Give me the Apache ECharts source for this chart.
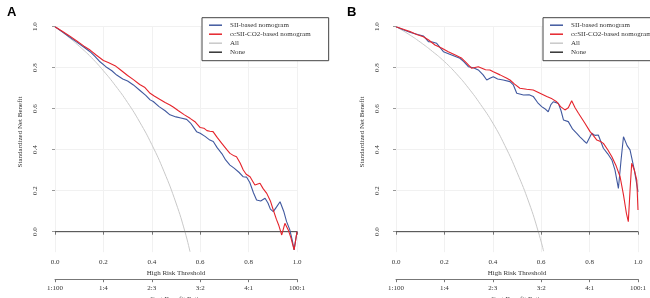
<!DOCTYPE html>
<html>
<head>
<meta charset="utf-8">
<script src="https://cdn.jsdelivr.net/npm/echarts@6/dist/echarts.min.js"></script>
<style>
  html, body { margin: 0; padding: 0; background: #fff; }
  #main { width: 650px; height: 298px; }
</style>
</head>
<body>
<div id="main"></div>
<script>
// decision curves: [threshold, standardized net benefit]
const seriesNames = ['SII-based nomogram', 'ccSII-CO2-based nomogram', 'All', 'None'];
const xTicks = [0, 0.2, 0.4, 0.6, 0.8, 1.0];
const yTicks = [0, 0.2, 0.4, 0.6, 0.8, 1.0];
const costBenefit = ['1:100', '1:4', '2:3', '3:2', '4:1', '100:1'];

const siiA = [[0,1.0],[0.03,0.975],[0.06,0.95],[0.09,0.925],[0.12,0.9],[0.145,0.878],[0.165,0.855],[0.186,0.829],[0.21,0.805],[0.235,0.785],[0.255,0.764],[0.28,0.745],[0.3,0.735],[0.324,0.716],[0.35,0.69],[0.375,0.665],[0.393,0.643],[0.406,0.635],[0.43,0.61],[0.455,0.59],[0.475,0.57],[0.5,0.56],[0.52,0.555],[0.544,0.548],[0.56,0.53],[0.575,0.505],[0.585,0.488],[0.6,0.48],[0.62,0.465],[0.64,0.447],[0.654,0.44],[0.67,0.41],[0.69,0.38],[0.705,0.35],[0.723,0.325],[0.74,0.31],[0.76,0.29],[0.778,0.268],[0.792,0.266],[0.805,0.24],[0.82,0.19],[0.833,0.155],[0.85,0.15],[0.868,0.163],[0.88,0.14],[0.89,0.11],[0.902,0.098],[0.915,0.12],[0.93,0.146],[0.945,0.1],[0.957,0.049],[0.97,0.01],[0.98,-0.04],[0.988,-0.089],[1.0,0.0]];
const ccsiiA = [[0,1.0],[0.03,0.978],[0.06,0.955],[0.09,0.93],[0.12,0.905],[0.145,0.886],[0.17,0.862],[0.2,0.835],[0.22,0.825],[0.248,0.81],[0.27,0.79],[0.3,0.762],[0.324,0.742],[0.35,0.718],[0.37,0.705],[0.393,0.675],[0.41,0.662],[0.434,0.645],[0.455,0.63],[0.475,0.618],[0.49,0.607],[0.51,0.59],[0.535,0.57],[0.558,0.553],[0.58,0.535],[0.6,0.508],[0.615,0.505],[0.628,0.493],[0.64,0.49],[0.653,0.488],[0.67,0.46],[0.69,0.43],[0.71,0.4],[0.723,0.382],[0.74,0.37],[0.75,0.366],[0.765,0.335],[0.778,0.301],[0.79,0.28],[0.806,0.268],[0.815,0.25],[0.826,0.228],[0.847,0.236],[0.86,0.21],[0.875,0.187],[0.89,0.15],[0.902,0.106],[0.915,0.06],[0.925,0.03],[0.937,-0.016],[0.95,0.041],[0.964,0.008],[0.975,-0.03],[0.988,-0.089],[1.0,0.0]];
const allA = [[0,1.0],[0.05,0.955],[0.1,0.905],[0.15,0.85],[0.2,0.785],[0.25,0.712],[0.3,0.63],[0.35,0.535],[0.4,0.425],[0.45,0.295],[0.5,0.14],[0.537,0.0],[0.558,-0.098]];

const siiB = [[0,1.0],[0.03,0.985],[0.06,0.972],[0.09,0.962],[0.113,0.955],[0.134,0.927],[0.15,0.925],[0.168,0.919],[0.196,0.878],[0.23,0.862],[0.264,0.846],[0.28,0.83],[0.299,0.805],[0.32,0.8],[0.34,0.789],[0.36,0.765],[0.375,0.74],[0.388,0.748],[0.402,0.756],[0.42,0.745],[0.443,0.74],[0.471,0.732],[0.485,0.716],[0.499,0.675],[0.527,0.667],[0.55,0.668],[0.567,0.66],[0.585,0.63],[0.602,0.61],[0.615,0.6],[0.629,0.585],[0.64,0.62],[0.65,0.634],[0.671,0.626],[0.682,0.59],[0.692,0.545],[0.712,0.537],[0.73,0.5],[0.747,0.48],[0.76,0.463],[0.775,0.445],[0.788,0.431],[0.795,0.423],[0.809,0.48],[0.822,0.47],[0.836,0.472],[0.857,0.407],[0.875,0.38],[0.892,0.35],[0.905,0.3],[0.919,0.211],[0.93,0.35],[0.94,0.463],[0.955,0.42],[0.967,0.399],[0.985,0.3],[1.0,0.195]];
const ccsiiB = [[0,1.0],[0.03,0.988],[0.058,0.976],[0.085,0.962],[0.113,0.951],[0.135,0.935],[0.161,0.911],[0.19,0.895],[0.216,0.878],[0.245,0.862],[0.272,0.846],[0.29,0.825],[0.313,0.797],[0.34,0.805],[0.37,0.79],[0.388,0.789],[0.402,0.78],[0.43,0.765],[0.458,0.748],[0.471,0.74],[0.49,0.72],[0.512,0.7],[0.54,0.695],[0.567,0.691],[0.595,0.675],[0.623,0.659],[0.645,0.648],[0.664,0.634],[0.68,0.61],[0.698,0.594],[0.712,0.605],[0.726,0.639],[0.74,0.605],[0.754,0.578],[0.78,0.53],[0.802,0.488],[0.815,0.47],[0.83,0.447],[0.845,0.44],[0.857,0.431],[0.875,0.4],[0.892,0.366],[0.91,0.32],[0.926,0.268],[0.94,0.18],[0.952,0.09],[0.96,0.049],[0.967,0.2],[0.974,0.334],[0.985,0.3],[0.995,0.252],[1.0,0.106]];
const allB = [[0,1.0],[0.05,0.965],[0.1,0.925],[0.15,0.88],[0.2,0.83],[0.25,0.77],[0.3,0.7],[0.35,0.62],[0.4,0.53],[0.45,0.42],[0.5,0.29],[0.55,0.14],[0.588,0.0],[0.61,-0.095]];

const noneLine = [[0,0],[1,0]];

const FONT = '"Liberation Serif", "DejaVu Serif", serif';
const colors = ['#41599f', '#e5242c', '#c9c9c9', '#333333'];

function xAxes(grid) {
	return [
		{
			gridIndex: grid, type: 'value', min: 0, max: 1, interval: 0.2,
			name: 'High Risk Threshold', nameLocation: 'middle', nameGap: 11,
			nameTextStyle: { fontFamily: FONT, fontSize: 7, color: '#333' },
			axisLine: { lineStyle: { color: '#777', width: 1 } },
			axisTick: { length: 3, lineStyle: { color: '#777' } },
			axisLabel: { fontFamily: FONT, fontSize: 7, color: '#333', margin: 6, formatter: v => v.toFixed(1) },
			splitLine: { show: true, lineStyle: { color: '#f1f1f1', width: 1 } }
		},
		{
			gridIndex: grid, type: 'value', position: 'bottom', offset: 27, min: 0, max: 1, interval: 0.2,
			name: 'Cost Benefit Ratio', nameLocation: 'middle', nameGap: 9,
			nameTextStyle: { fontFamily: FONT, fontSize: 7, color: '#333' },
			axisLine: { lineStyle: { color: '#777', width: 1 } },
			axisTick: { length: 3, lineStyle: { color: '#777' } },
			axisLabel: { fontFamily: FONT, fontSize: 7, color: '#333', margin: 5, formatter: v => costBenefit[Math.round(v * 5)] },
			splitLine: { show: false }
		}
	];
}

function yAxis(grid, offset) {
	return {
		gridIndex: grid, type: 'value', min: -0.1, max: 1, offset: offset,
		axisLine: { show: false },
		axisTick: { show: true, length: 3, customValues: yTicks, lineStyle: { color: '#999' } },
		axisLabel: { fontFamily: FONT, fontSize: 7, color: '#333', rotate: 90, margin: 6, customValues: yTicks, formatter: v => v.toFixed(1) },
		splitLine: { show: true, lineStyle: { color: '#f1f1f1', width: 1 } }
	};
}

function panelSeries(xi, yi, sii, ccsii, all) {
	const base = { type: 'line', xAxisIndex: xi, yAxisIndex: yi, symbol: 'none', animation: false };
	return [
		{ ...base, name: seriesNames[2], data: all, smooth: true, itemStyle: { color: colors[2] }, lineStyle: { color: colors[2], width: 1 }, z: 2 },
		{ ...base, name: seriesNames[3], data: noneLine, itemStyle: { color: colors[3] }, lineStyle: { color: '#555', width: 1 }, z: 3 },
		{ ...base, name: seriesNames[0], data: sii, itemStyle: { color: colors[0] }, lineStyle: { color: colors[0], width: 1.1 }, z: 4 },
		{ ...base, name: seriesNames[1], data: ccsii, itemStyle: { color: colors[1] }, lineStyle: { color: colors[1], width: 1.1 }, z: 5 }
	];
}

function legendAt(left) {
	return {
		data: seriesNames, left: left, top: 17.7, orient: 'vertical',
		backgroundColor: '#fff', borderColor: '#444', borderWidth: 1, borderRadius: 0,
		padding: [3, 18, 4, 7], itemGap: 0, itemWidth: 13, itemHeight: 1.5, icon: 'rect',
		selectedMode: false,
		textStyle: { fontFamily: FONT, fontSize: 7, color: '#333', lineHeight: 9, padding: [0, 0, 0, 3] }
	};
}

const chart = echarts.init(document.getElementById('main'), null, { renderer: 'canvas' });
chart.setOption({
	color: colors,
	animation: false,
	title: [
		{ text: 'A', left: 2, top: 1, textStyle: { fontFamily: 'Liberation Sans, Arial', fontSize: 13, fontWeight: 'bold', color: '#000' } },
		{ text: 'B', left: 342, top: 1, textStyle: { fontFamily: 'Liberation Sans, Arial', fontSize: 13, fontWeight: 'bold', color: '#000' } }
	],
	grid: [
		{ left: 55, width: 242, top: 26.7, height: 225.5, outerBoundsMode: 'none', containLabel: false },
		{ left: 396, width: 242, top: 26.7, height: 225.5, outerBoundsMode: 'none', containLabel: false }
	],
	xAxis: [...xAxes(0), ...xAxes(1)],
	yAxis: [yAxis(0, 10), yAxis(1, 9.3)],
	legend: [legendAt(202), legendAt(543)],
	graphic: [
		{ type: 'text', x: 20, y: 132, rotation: Math.PI / 2, style: { text: 'Standardized Net Benefit', font: '7px ' + FONT, fill: '#333', align: 'center', verticalAlign: 'middle' } },
		{ type: 'text', x: 362, y: 132, rotation: Math.PI / 2, style: { text: 'Standardized Net Benefit', font: '7px ' + FONT, fill: '#333', align: 'center', verticalAlign: 'middle' } }
	],
	series: [
		...panelSeries(0, 0, siiA, ccsiiA, allA),
		...panelSeries(2, 1, siiB, ccsiiB, allB)
	]
});
</script>
</body>
</html>
